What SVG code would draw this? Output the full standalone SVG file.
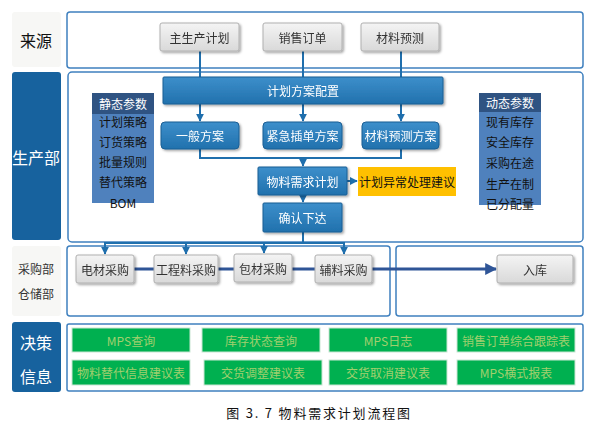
<svg xmlns="http://www.w3.org/2000/svg" width="594" height="421" viewBox="0 0 594 421">
<style>
text{font-family:"Noto Sans CJK SC","Liberation Sans",sans-serif;text-anchor:middle;dominant-baseline:central}
.panel{fill:#fff;stroke:#3f80bf;stroke-width:1.5}
.lab-light{fill:#f7f7f5}
.lab-dark{fill:#17629e}
.gray{fill:url(#gGray);stroke:#b0b0b0;stroke-width:1}
.blue{fill:url(#gBlue);stroke:#1b5f94;stroke-width:1}
.t-gray{font-size:12px;fill:#333}
.t-white{font-size:12px;fill:#fff}
.t-big{font-size:16px}
.green{fill:#00b050;stroke:#c9e6d3;stroke-width:1}
.t-green{font-size:12px;fill:#a2cf6e}
.param{font-size:12px;fill:#111}
.conn{fill:none;stroke:#1f6fad;stroke-width:2}
.thick{fill:none;stroke:#2f5597;stroke-width:3}
</style>
<defs>
<linearGradient id="gGray" x1="0" y1="0" x2="0" y2="1">
<stop offset="0" stop-color="#f4f4f4"/><stop offset="1" stop-color="#d9d9d9"/>
</linearGradient>
<linearGradient id="gBlue" x1="0" y1="0" x2="0" y2="1">
<stop offset="0" stop-color="#3d8fcb"/><stop offset="1" stop-color="#2171ad"/>
</linearGradient>
<filter id="sh" x="-10%" y="-10%" width="125%" height="140%">
<feDropShadow dx="1.5" dy="1.5" stdDeviation="1" flood-color="#000" flood-opacity="0.35"/>
</filter>
<marker id="ar" viewBox="0 0 10 10" refX="9" refY="5" markerWidth="4" markerHeight="4" orient="auto">
<path d="M0,0 L10,5 L0,10 z" fill="#1f6fad"/>
</marker>
<marker id="arBig" viewBox="0 0 10 10" refX="9" refY="5" markerWidth="4" markerHeight="4" orient="auto">
<path d="M0,0 L10,5 L0,10 z" fill="#2f5597"/>
</marker>
</defs>

<!-- left labels -->
<g id="lab-source"><rect class="lab-light" x="12" y="12" width="49" height="55" rx="3"/><text class="t-big" x="36" y="40" fill="#111">来源</text></g>
<g id="lab-prod"><rect class="lab-dark" x="12" y="72" width="49" height="168" rx="3"/><text class="t-big" x="36" y="157" fill="#fff">生产部</text></g>
<g id="lab-proc"><rect class="lab-light" x="12" y="246" width="49" height="70" rx="3"/><text x="36" y="268" font-size="12" fill="#333">采购部</text><text x="36" y="293" font-size="12" fill="#333">仓储部</text></g>
<g id="lab-dec"><rect class="lab-dark" x="12" y="322" width="49" height="70" rx="3"/><text class="t-big" x="36" y="342" fill="#fff">决策</text><text class="t-big" x="36" y="376" fill="#fff">信息</text></g>

<!-- panels -->
<g id="panels">
<rect class="panel" x="67" y="12" width="516" height="56" rx="3"/>
<rect class="panel" x="68" y="72" width="515" height="170" rx="4"/>
<rect class="panel" x="67" y="246" width="323" height="70" rx="3"/>
<rect class="panel" x="396" y="246" width="187" height="70" rx="3"/>
<rect class="panel" x="67" y="324" width="516" height="67" rx="2" stroke="#2e75b6" stroke-width="2"/>
</g>

<!-- connectors -->
<g id="connectors">
<path class="conn" d="M200,51 V121" marker-end="url(#ar)"/>
<path class="conn" d="M303,51 V121" marker-end="url(#ar)"/>
<path class="conn" d="M401,51 V121" marker-end="url(#ar)"/>
<path class="conn" d="M200,149 V158 H401 V149"/>
<path class="conn" d="M303,158 V166" marker-end="url(#ar)"/>
<path class="conn" d="M347,181 H357" marker-end="url(#ar)"/>
<path class="conn" d="M303,195 V202" marker-end="url(#ar)"/>
<path class="conn" d="M303,232 V243 M104,243 H345"/>
<path class="conn" d="M105,243 V254" marker-end="url(#ar)"/>
<path class="conn" d="M186,243 V254" marker-end="url(#ar)"/>
<path class="conn" d="M264,243 V253" marker-end="url(#ar)"/>
<path class="conn" d="M344,243 V254" marker-end="url(#ar)"/>
<path class="thick" d="M134,269 H154 M218,269 H234 M292,269 H315"/>
<path class="thick" d="M372,269 H496" marker-end="url(#arBig)"/>
</g>

<!-- source nodes -->
<g id="n-mps" filter="url(#sh)"><rect class="gray" x="160" y="23" width="79" height="28" rx="2"/><text class="t-gray" x="199.5" y="37">主生产计划</text></g>
<g id="n-so" filter="url(#sh)"><rect class="gray" x="263" y="23" width="79" height="28" rx="2"/><text class="t-gray" x="302.5" y="37">销售订单</text></g>
<g id="n-fc" filter="url(#sh)"><rect class="gray" x="361" y="23" width="78" height="28" rx="2"/><text class="t-gray" x="400" y="37">材料预测</text></g>

<!-- production nodes -->
<g id="n-config" filter="url(#sh)"><rect class="blue" x="163" y="77" width="280" height="27" rx="1"/><text class="t-white" x="303" y="90.5">计划方案配置</text></g>
<g id="n-general" filter="url(#sh)"><rect class="blue" x="161" y="122" width="78" height="27" rx="4"/><text class="t-white" x="200" y="135.5">一般方案</text></g>
<g id="n-urgent" filter="url(#sh)"><rect class="blue" x="263" y="122" width="79" height="27" rx="4"/><text class="t-white" x="302.5" y="135.5">紧急插单方案</text></g>
<g id="n-fcplan" filter="url(#sh)"><rect class="blue" x="362" y="122" width="77" height="27" rx="4"/><text class="t-white" x="400.5" y="135.5">材料预测方案</text></g>
<g id="n-mrp" filter="url(#sh)"><rect class="blue" x="258" y="167" width="89" height="28" rx="1"/><text class="t-white" x="302.5" y="181">物料需求计划</text></g>
<g id="n-exc"><rect x="358" y="167" width="98" height="29" fill="#ffc000"/><text x="407" y="181.5" font-size="12" fill="#111">计划异常处理建议</text></g>
<g id="n-confirm" filter="url(#sh)"><rect class="blue" x="263" y="203" width="79" height="29" rx="1"/><text class="t-white" x="302.5" y="217.5">确认下达</text></g>

<g id="n-static">
<rect x="92" y="93" width="62" height="110" fill="#4f81bd"/>
<rect x="92" y="93" width="62" height="21" fill="#2f5382"/>
<text class="t-white" x="123" y="103">静态参数</text>
<text class="param" x="123" y="121">计划策略</text>
<text class="param" x="123" y="141">订货策略</text>
<text class="param" x="123" y="161">批量规则</text>
<text class="param" x="123" y="181">替代策略</text>
<text class="param" x="123" y="202">BOM</text>
</g>
<g id="n-dynamic">
<rect x="479" y="93" width="62" height="112" fill="#4f81bd"/>
<rect x="479" y="93" width="62" height="19" fill="#2f5382"/>
<text class="t-white" x="510" y="102.5">动态参数</text>
<text class="param" x="510" y="121">现有库存</text>
<text class="param" x="510" y="141">安全库存</text>
<text class="param" x="510" y="162">采购在途</text>
<text class="param" x="510" y="183">生产在制</text>
<text class="param" x="510" y="203">已分配量</text>
</g>

<!-- procurement nodes -->
<g id="n-p1" filter="url(#sh)"><rect class="gray" x="76" y="255" width="58" height="28" rx="2"/><text class="t-gray" x="105" y="269">电材采购</text></g>
<g id="n-p2" filter="url(#sh)"><rect class="gray" x="154" y="255" width="64" height="28" rx="2"/><text class="t-gray" x="186" y="269">工程料采购</text></g>
<g id="n-p3" filter="url(#sh)"><rect class="gray" x="234" y="254" width="58" height="28" rx="2"/><text class="t-gray" x="263" y="268">包材采购</text></g>
<g id="n-p4" filter="url(#sh)"><rect class="gray" x="315" y="255" width="57" height="28" rx="2"/><text class="t-gray" x="343.5" y="269">辅料采购</text></g>
<g id="n-in" filter="url(#sh)"><rect class="gray" x="497" y="255" width="76" height="28" rx="2"/><text class="t-gray" x="535" y="269">入库</text></g>

<!-- decision info -->
<g id="n-d1"><rect class="green" x="72" y="328" width="118" height="24"/><text class="t-green" x="131" y="340">MPS查询</text></g>
<g id="n-d2"><rect class="green" x="202" y="328" width="118" height="24"/><text class="t-green" x="261" y="340">库存状态查询</text></g>
<g id="n-d3"><rect class="green" x="329" y="328" width="118" height="24"/><text class="t-green" x="388" y="340">MPS日志</text></g>
<g id="n-d4"><rect class="green" x="457" y="328" width="118" height="24"/><text class="t-green" x="516" y="340">销售订单综合跟踪表</text></g>
<g id="n-d5"><rect class="green" x="72" y="360" width="118" height="25"/><text class="t-green" x="131" y="372.5">物料替代信息建议表</text></g>
<g id="n-d6"><rect class="green" x="204" y="360" width="118" height="25"/><text class="t-green" x="263" y="372.5">交货调整建议表</text></g>
<g id="n-d7"><rect class="green" x="329" y="360" width="118" height="25"/><text class="t-green" x="388" y="372.5">交货取消建议表</text></g>
<g id="n-d8"><rect class="green" x="457" y="360" width="118" height="25"/><text class="t-green" x="516" y="372.5">MPS横式报表</text></g>

<text x="319" y="412" font-size="13" fill="#111" letter-spacing="1.8">图 3. 7 物料需求计划流程图</text>
</svg>
